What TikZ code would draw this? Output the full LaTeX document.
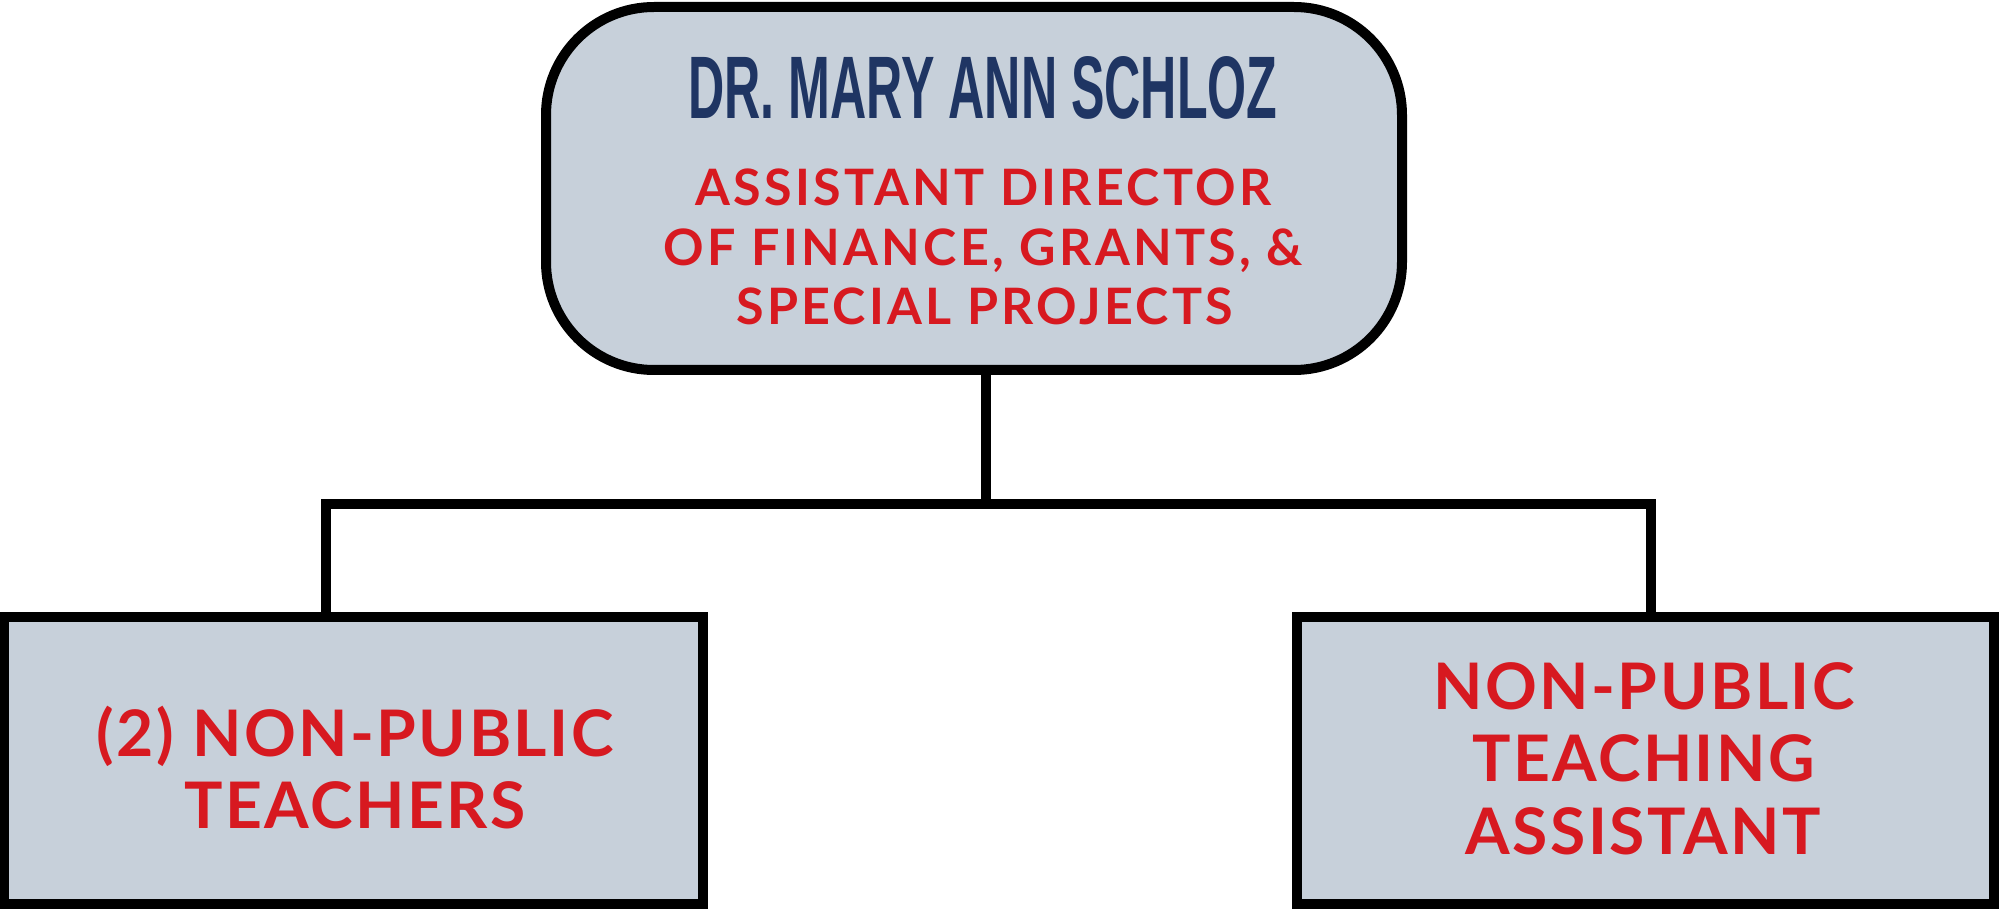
\documentclass[tikz,border=0pt]{standalone}
\usepackage{fontspec}
\usepackage{graphicx}
\setmainfont{Liberation Sans}
\newfontfamily\latosmall[LetterSpace=6.6]{Lato}
\newfontfamily\latobig[LetterSpace=3.8]{Lato}
\newfontfamily\namefont{Liberation Sans}
\definecolor{boxfill}{HTML}{C7D0DA}
\definecolor{redtxt}{HTML}{D71920}
\definecolor{navytxt}{HTML}{1F3563}
\tikzset{
  box/.style={draw=black, line width=5pt, fill=boxfill, inner sep=0pt, rectangle},
  topbox/.style={box, rounded corners=54pt, minimum width=428pt, minimum height=181.5pt},
  lowbox/.style={box, minimum width=349.5pt, minimum height=143.5pt},
  conn/.style={draw=black, line width=5pt, line join=miter},
  redsmall/.style={anchor=base, inner sep=0pt, text=redtxt, font=\latosmall\bfseries\fontsize{25.1}{30}\selectfont},
  redbig/.style={anchor=base, inner sep=0pt, text=redtxt, font=\latobig\bfseries\fontsize{32.1}{36}\selectfont},
  nametxt/.style={anchor=base, inner sep=0pt, text=navytxt}
}
\begin{document}
\begin{tikzpicture}[x=0.5pt, y=-0.5pt]
\fill[white] (0,0) rectangle (1999,909);
\useasboundingbox (0,0) rectangle (1999,909);
% boxes
\node[topbox] (top) at (974,188.5) {};
\node[lowbox] (lft) at (353.5,760.5) {};
\node[lowbox, minimum width=348.75pt] (rgt) at (1645.25,760.5) {};
% connectors
\coordinate (hub) at (985.5,504);
\coordinate (lj) at (326,504);
\coordinate (rj) at (1651,504);
\draw[conn] (top.south -| hub) -- (hub);
\draw[conn] (lft.north -| lj) -- (lj) -- (rj) -- (rgt.north -| rj);
% texts of top box
\node[nametxt] (name) at (983,119) {\resizebox{294.5pt}{31pt}{\namefont\bfseries DR. MARY ANN SCHLOZ}};
\node[redsmall] (t1) at (983.5,206) {ASSISTANT DIRECTOR};
\node[redsmall] (t2) at (983.5,266) {OF FINANCE, GRANTS, \&};
\node[redsmall] (t3) at (984.5,325) {SPECIAL PROJECTS};
% texts of left box
\node[redbig] (l1) at (355,756) {(2) NON-PUBLIC};
\node[redbig] (l2) at (355,828) {TEACHERS};
% texts of right box
\node[redbig] (r1) at (1644,709) {NON-PUBLIC};
\node[redbig] (r2) at (1643.5,781) {TEACHING};
\node[redbig] (r3) at (1643.5,854) {ASSISTANT};
\end{tikzpicture}
\end{document}
